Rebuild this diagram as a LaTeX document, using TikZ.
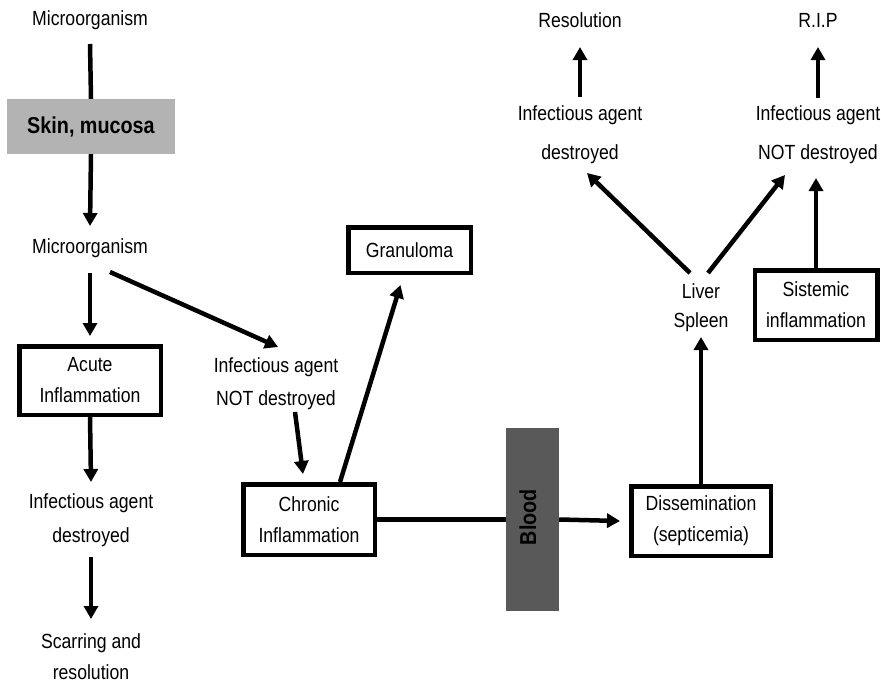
\documentclass[tikz,border=0pt]{standalone}
\usepackage{fontspec}
\setmainfont[FakeStretch=0.86]{Liberation Sans}
\usetikzlibrary{arrows.meta,calc}
\newcommand\fsz[1]{\fontsize{20.5pt}{#1pt}\selectfont}
\newcommand\bfsz{\fontsize{23pt}{27pt}\selectfont\bfseries}
\definecolor{skingray}{RGB}{179,179,179}
\definecolor{bloodgray}{RGB}{89,89,89}
\begin{document}
\begin{tikzpicture}[x=1pt,y=-1pt,
  txt/.style={align=center, inner sep=0pt, font=\fsz{#1}},
  txt/.default=31,
  box/.style={draw, line width=4.5pt, align=center, inner sep=0pt, font=\fsz{31}},
  ln/.style={line width=4.5pt},
  arr/.style={line width=4.5pt, -{Triangle[length=13pt,width=14pt]}}]
\useasboundingbox (0,0) rectangle (881,683);

% left column
\node[txt] (m1) at (90,20) {Microorganism};
\node[fill=skingray, minimum width=168pt, minimum height=55pt, inner sep=0pt, font=\bfsz] (skin) at (91,126.5) {Skin, mucosa};
\node[txt] (m2) at (90,248) {Microorganism};
\node[box, minimum width=141.5pt, minimum height=68.5pt] (acute) at (90,380.5) {Acute\\Inflammation};
\node[txt=34] (ina1) at (91,520) {Infectious agent\\destroyed};
\node[txt] (scar) at (91,657) {Scarring and\\resolution};

% middle
\node[txt=33] (notd1) at (276,384) {Infectious agent\\NOT destroyed};
\node[box, minimum width=131.5pt, minimum height=70.5pt] (chronic) at (309,519.5) {Chronic\\Inflammation};
\node[box, minimum width=122.5pt, minimum height=45.5pt] (gran) at (409.5,250) {Granuloma};
\node[fill=bloodgray, minimum width=53pt, minimum height=183pt, inner sep=0pt] (blood) at (532.5,519.5) {};
\node[font=\bfsz, rotate=90, inner sep=0pt] (bloodtxt) at (528,517) {Blood};

% right
\node[box, minimum width=139.5pt, minimum height=69.5pt] (dissem) at (701,521) {Dissemination\\(septicemia)};
\node[txt=29] (liver) at (701,308) {Liver\\Spleen};
\node[box, minimum width=122.5pt, minimum height=69.5pt] (sist) at (816,305) {Sistemic\\inflammation};
\node[txt=39] (des2) at (580,135) {Infectious agent\\destroyed};
\node[txt=39] (notd2) at (818,135) {Infectious agent\\NOT destroyed};
\node[txt] (resol) at (580,20) {Resolution};
\node[txt] (rip) at (818,20) {R.I.P};

% connectors
\draw[ln] ($(m1)+(0,24)$) -- (skin.north);
\draw[arr] (skin.south) -- ($(m2)+(0,-22)$);
\draw[arr] ($(m2)+(0,25)$) -- ($(acute.north)+(0,-8)$);
\draw[arr] ($(m2)+(20,24)$) -- ($(notd1)+(2,-37)$);
\draw[arr] (acute.south) -- ($(ina1)+(0,-38)$);
\draw[arr] ($(ina1)+(0,37)$) -- ($(scar)+(0,-38)$);
\draw[arr] ($(notd1)+(19,28)$) -- ($(chronic.north)+(-6,-8)$);
\draw[arr] ($(chronic.north)+(31,0)$) -- ($(gran.south)+(-9,10)$);
\draw[ln] (chronic.east) -- (blood.west);
\draw[arr] (blood.east) -- ($(dissem.west)+(-9,0)$);
\draw[arr] (dissem.north) -- ($(liver)+(0,29)$);
\draw[arr] ($(liver)+(-11,-35)$) -- ($(des2)+(7,38)$);
\draw[arr] ($(liver)+(7,-35)$) -- ($(notd2)+(-33,40)$);
\draw[arr] (sist.north) -- ($(notd2)+(-2,43)$);
\draw[arr] ($(des2)+(0,-38)$) -- ($(resol)+(0,27)$);
\draw[arr] ($(notd2)+(0,-37)$) -- ($(rip)+(0,27)$);
\end{tikzpicture}
\end{document}
